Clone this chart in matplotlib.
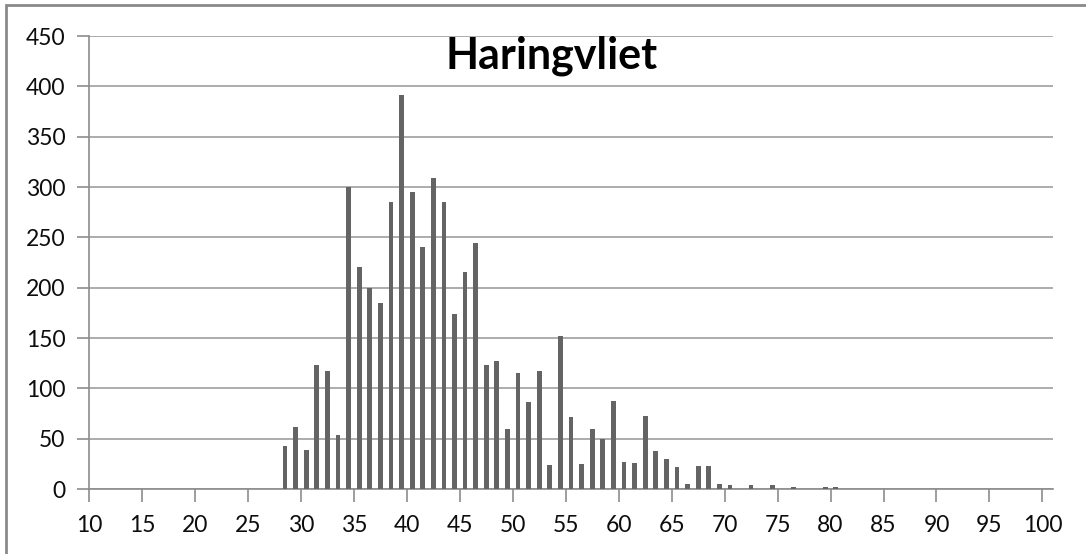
import matplotlib.pyplot as plt
import matplotlib.patches as mpatches
import numpy as np

# fish length classes (cm) and counts
lengths = np.arange(28, 81)
counts = [43, 62, 39, 123, 117, 54, 300, 221, 200, 185,
          285, 391, 295, 240, 309, 285, 174, 216, 244, 123,
          127, 60, 115, 86, 117, 24, 152, 72, 25, 60,
          50, 87, 27, 26, 73, 38, 30, 22, 5, 23,
          23, 5, 4, 0, 4, 0, 4, 0, 2, 0,
          0, 2, 2]
xticks = np.arange(10, 101, 5)
yticks = np.arange(0, 451, 50)
title = "Haringvliet"

plt.rcParams['font.family'] = ['Lato', 'DejaVu Sans']

fig = plt.figure(figsize=(10.86, 5.54), dpi=100)
ax = fig.add_axes([0.082, 0.1173, 0.8876, 0.8177])

# each class fills one unit, bar sits in the middle of it
ax.bar(lengths + 0.5, counts, width=0.45, color="#646464", zorder=3)

ax.set_xlim(10, 101)
ax.set_ylim(0, 450)
ax.set_xticks(xticks)
ax.set_yticks(yticks)
ax.tick_params(axis='both', labelsize=16.5, colors="#8c8c8c", labelcolor="#0d0d0d",
               length=9, width=1.2, direction='out')
ax.tick_params(axis='x', pad=10)
ax.tick_params(axis='y', pad=8)

ax.grid(axis='y', color="#a6a6a6", linewidth=1.3, zorder=0)
for s in ['top', 'right']:
    ax.spines[s].set_visible(False)
for s in ['left', 'bottom']:
    ax.spines[s].set_color("#8c8c8c")
    ax.spines[s].set_linewidth(1.2)

ax.text(0.48, 0.929, title, transform=ax.transAxes, ha='center', va='baseline',
        fontsize=31, fontweight='bold', color="black")

# chart frame (only left and top edges are in view)
fig.patches.append(mpatches.Rectangle((6 / 1086, -0.1), 1.2, 1.1 - 5 / 554,
                                      transform=fig.transFigure, fill=False,
                                      edgecolor="#8a8a8a", linewidth=2))

fig.savefig("out.png", dpi=100)
